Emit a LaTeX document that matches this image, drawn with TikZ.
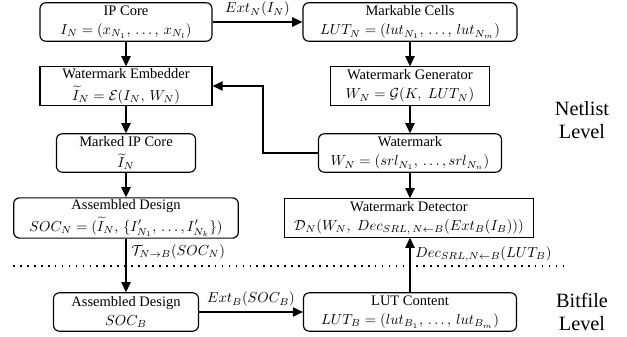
\documentclass[tikz,border=0pt]{standalone}
\usepackage{amsmath}
\usepackage{amssymb}
\usepackage{fontspec}
\setmainfont{Liberation Serif}
\usetikzlibrary{arrows.meta, positioning, calc}
\tikzset{
  block/.style={draw, line width=0.8pt, minimum height=26.5pt, align=center, inner sep=1pt,
    font=\fontsize{10}{13.5}\selectfont},
  rblock/.style={block, rounded corners=4pt},
  flow/.style={-{Triangle[length=7pt,width=6.5pt]}, line width=0.8pt},
  level/.style={font=\fontsize{14}{16}\selectfont, align=center}
}

\begin{document}
\begin{tikzpicture}[x=0.69pt, y=-0.69pt]
\useasboundingbox (0,0) rectangle (627,337);
% netlist level
\node[rblock, minimum width=118.7pt] (ipcore) at (126,22) {IP Core\\ $I_N = (x_{N_1},\, \ldots,\, x_{N_l})$};
\node[rblock, minimum width=147.7pt] (cells) at (410,22) {Markable Cells\\ $LUT_N = (lut_{N_1},\, \ldots,\, lut_{N_m})$};
\node[block, minimum width=118.7pt] (embedder) at (126,86) {Watermark Embedder\\[1.5pt] $\widetilde{I}_N = \mathcal{E}(I_N,\, W_N)$};
\node[block, minimum width=110pt] (generator) at (410,86) {Watermark Generator\\ $W_N = \mathcal{G}(K,\; LUT_N)$};
\node[rblock, minimum width=96pt] (marked) at (126,153) {Marked IP Core\\[1.5pt] $\widetilde{I}_N$};
\node[rblock, minimum width=126.3pt] (watermark) at (410,153) {Watermark\\ $W_N = (srl_{N_1},\, \ldots, srl_{N_n})$};
\node[rblock, minimum width=155pt] (socn) at (126,218) {Assembled Design\\[1.5pt] $SOC_N = (\widetilde{I}_N,\, \{I'_{N_1},\, \ldots, I'_{N_k}\})$};
\node[block, minimum width=172pt] (detector) at (409,218) {Watermark Detector\\ $\mathcal{D}_N(W_N,\; Dec_{SRL,\,N\leftarrow B}(Ext_B(I_B)))$};
% bitfile level
\node[rblock, minimum width=100pt] (socb) at (126,312) {Assembled Design\\ $SOC_B$};
\node[rblock, minimum width=147pt] (lut) at (410,312) {LUT Content\\ $LUT_B = (lut_{B_1},\, \ldots,\, lut_{B_m})$};
\node[level] (netlist) at (582,120) {Netlist\\ Level};
\node[level] (bitfile) at (582,312) {Bitfile\\ Level};
\draw[line width=0.8pt, dash pattern=on 1.2pt off 3.6pt] (13,266) -- (565,266);
% connections
\draw[flow] (ipcore) -- node[above] {$Ext_N(I_N)$} (cells);
\draw[flow] (ipcore) -- (embedder);
\draw[flow] (cells) -- (generator);
\draw[flow] (generator) -- (watermark);
\draw[flow] (embedder) -- (marked);
\draw[flow] (marked) -- (socn);
\draw[flow] (watermark) -- (watermark.south |- detector.north);
\coordinate (bend) at (263,153);
\draw[flow] (watermark.west) -- (bend) |- (embedder.east);
\draw[flow] (socn) -- node[right, pos=0.25] {$\mathcal{T}_{N\rightarrow B}(SOC_N)$} (socb);
\draw[flow] (socb) -- node[above] {$Ext_B(SOC_B)$} (lut);
\draw[flow] (lut) -- node[right, pos=0.7] {$Dec_{SRL,N\leftarrow B}(LUT_B)$} (lut.north |- detector.south);
\end{tikzpicture}
\end{document}
